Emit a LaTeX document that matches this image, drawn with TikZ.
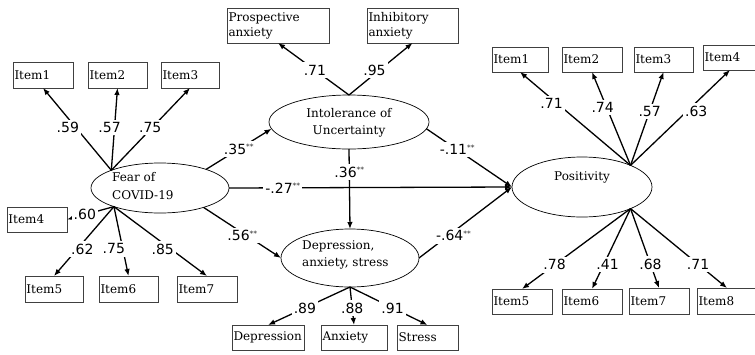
\documentclass[tikz,border=0pt]{standalone}
\usepackage{fontspec}
\setmainfont{DejaVu Serif}
\newfontfamily\numfont{DejaVu Sans}
\usetikzlibrary{arrows.meta,shapes.geometric}
\newcommand\sg{\raisebox{4.5pt}{\color{black!85}\fontsize{7.5}{7.5}\selectfont **}}
\begin{document}
\begin{tikzpicture}[x=1pt,y=-1pt,
  box/.style={draw=black!75, line width=0.8pt, anchor=north west, inner xsep=1.5pt, inner ysep=0pt, outer sep=0pt, align=left, font=\fontsize{12}{15}\selectfont},
  bx/.style 2 args={box, text width=#1, minimum height=#2},
  lat/.style={draw, ellipse, line width=0.7pt, inner sep=0pt, outer sep=0pt},
  etxt/.style={align=left, inner sep=0pt, font=\fontsize{12}{17.5}\selectfont},
  conn/.style={line width=1.3pt, -{Latex[length=7pt,width=5.5pt]}},
  lbl/.style={fill=white, inner xsep=2pt, inner ysep=2.5pt, font=\numfont\fontsize{14}{14}\selectfont}]
\fill[white] (0,0) rectangle (755,354);
\useasboundingbox (0,0) rectangle (755,354);

% latent variables
\node[lat, minimum width=138pt, minimum height=50pt] (fear) at (160,188) {};
\node[lat, minimum width=160pt, minimum height=54pt] (intol) at (349,122) {};
\node[lat, minimum width=138pt, minimum height=58pt] (dep) at (350,258) {};
\node[lat, minimum width=140pt, minimum height=60pt] (pos) at (582,187) {};
\node[etxt, anchor=west] (feart) at (112,186) {Fear of\\COVID-19};
\node[etxt, align=center] (intolt) at (349,123) {Intolerance of\\Uncertainty};
\node[etxt, anchor=west] (dept) at (302,255) {Depression,\\anxiety, stress};
\node[etxt] (post) at (582,177) {Positivity};

% indicator boxes
\node[bx={57pt}{26pt}] (f1) at (13,62) {Item1};
\node[bx={56pt}{26pt}] (f2) at (88,62) {Item2};
\node[bx={55pt}{26pt}] (f3) at (161,62) {Item3};
\node[bx={57pt}{25pt}] (f4) at (7,207) {Item4};
\node[bx={55pt}{26pt}] (f5) at (25,276) {Item5};
\node[bx={56pt}{26pt}] (f6) at (99,276) {Item6};
\node[bx={57pt}{26pt}] (f7) at (177,276) {Item7};
\node[bx={99pt}{35pt}] (p1) at (227,8) {Prospective\\anxiety};
\node[bx={88pt}{35pt}] (p2) at (367,8) {Inhibitory\\anxiety};
\node[bx={69pt}{25pt}] (d1) at (232,325) {Depression};
\node[bx={63pt}{25pt}] (d2) at (321,325) {Anxiety};
\node[bx={58pt}{25pt}] (d3) at (397,325) {Stress};
\node[bx={53pt}{25pt}] (q1) at (492,47) {Item1};
\node[bx={57pt}{25pt}] (q2) at (562,47) {Item2};
\node[bx={56pt}{25pt}] (q3) at (634,47) {Item3};
\node[bx={51pt}{25pt}] (q4) at (703,45) {Item4};
\node[bx={57pt}{25pt}] (q5) at (492,289) {Item5};
\node[bx={57pt}{25pt}] (q6) at (562,289) {Item6};
\node[bx={57pt}{26pt}] (q7) at (629,288) {Item7};
\node[bx={57pt}{26pt}] (q8) at (697,288) {Item8};

% loadings: fear
\draw[conn] (fear.160) -- node[lbl, pos=0.52, xshift=-8pt] {.59} (f1.south);
\draw[conn] (fear.160) -- node[lbl, pos=0.52, xshift=-5pt] {.57} (f2.south);
\draw[conn] (fear.160) -- node[lbl, pos=0.52, xshift=-2pt] {.75} (f3.south);
\draw[conn] (fear.-158) -- node[lbl, pos=0.62] {.60} (f4.east);
\draw[conn] (fear.-158) -- node[lbl, pos=0.61, xshift=5pt] {.62} (f5.north);
\draw[conn] (fear.-158) -- node[lbl, pos=0.61, xshift=-9pt] {.75} (f6.north);
\draw[conn] (fear.-158) -- node[lbl, pos=0.61, xshift=-8pt] {.85} (f7.north);
% loadings: intolerance
\draw[conn] (intol.north) -- node[lbl, pos=0.48] {.71} (p1.south);
\draw[conn] (intol.north) -- node[lbl, pos=0.48, xshift=-5pt] {.95} (p2.south);
% loadings: depression
\draw[conn] (dep.south) -- node[lbl, pos=0.55] {.89} (d1.north);
\draw[conn] (dep.south) -- node[lbl, pos=0.55] {.88} (d2.north);
\draw[conn] (dep.south) -- node[lbl, pos=0.55] {.91} (d3.north);
% loadings: positivity
\draw[conn] (pos.24) -- node[lbl, pos=0.66, xshift=-6pt] {.71} (q1.south);
\draw[conn] (pos.24) -- node[lbl, pos=0.62, xshift=-4pt] {.74} (q2.south);
\draw[conn] (pos.24) -- node[lbl, pos=0.58] {.57} (q3.south);
\draw[conn] (pos.24) -- node[lbl, pos=0.57, xshift=9pt] {.63} (q4.south);
\draw[conn] (pos.-24) -- node[lbl, pos=0.7] {.78} (q5.north);
\draw[conn] (pos.-24) -- node[lbl, pos=0.7, xshift=4pt] {.41} (q6.north);
\draw[conn] (pos.-24) -- node[lbl, pos=0.7] {.68} (q7.north);
\draw[conn] (pos.-24) -- node[lbl, pos=0.7] {.71} (q8.north);

% structural paths
\draw[conn] (fear.22) -- node[lbl, pos=0.5] {.35\sg} (intol.185);
\draw[conn] (fear.east) -- node[lbl, pos=0.19] {-.27\sg} (pos.west);
\draw[conn] (intol.-5) -- node[lbl, pos=0.36] {-.11\sg} (pos.west);
\draw[conn] (intol.south) -- node[lbl, pos=0.29] {.36\sg} (dep.north);
\draw[conn] (fear.-24) -- node[lbl, pos=0.5, yshift=-3pt] {.56\sg} (dep.west);
\draw[conn] (dep.east) -- node[lbl, pos=0.37, yshift=-4pt] {-.64\sg} (pos.west);
\end{tikzpicture}
\end{document}
